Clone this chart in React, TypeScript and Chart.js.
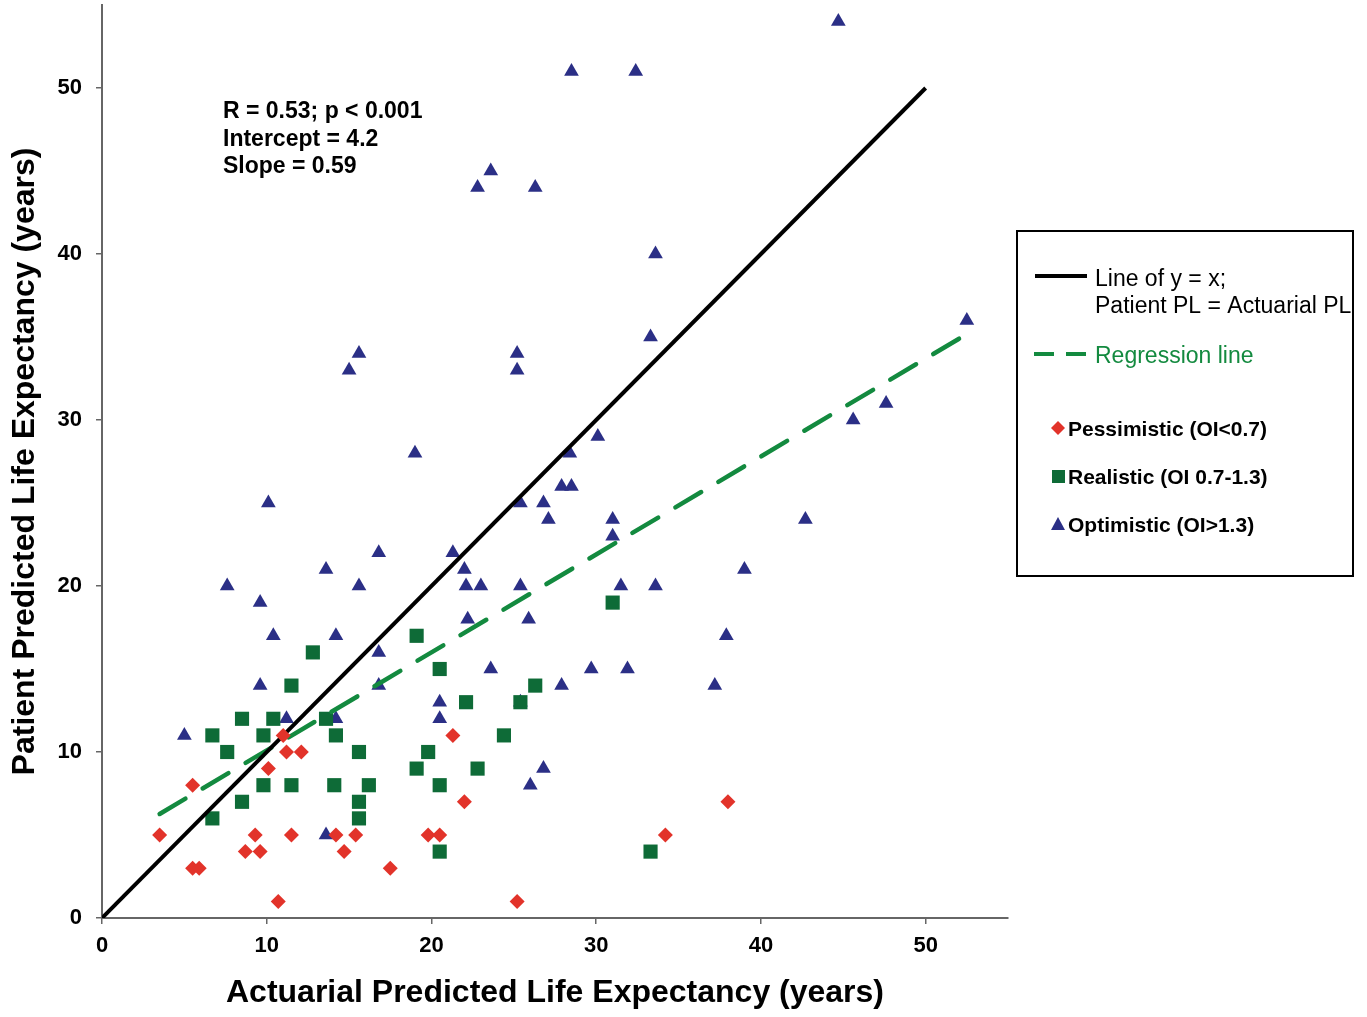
import React, { useEffect, useRef } from "react";
import { Chart, registerables } from "chart.js";

Chart.register(...registerables);

// ---- Data ----
const pessimisticX = [3.5, 5.5, 5.5, 5.9, 8.7, 9.3, 9.6, 10.1, 10.7, 11.0, 11.2, 11.5, 12.1, 14.2, 14.7, 15.4, 17.5, 19.8, 20.5, 21.3, 22.0, 25.2, 34.2, 38.0];
const pessimisticY = [5, 8, 3, 3, 4, 5, 4, 9, 1, 11, 10, 5, 10, 5, 4, 5, 3, 5, 5, 11, 7, 1, 5, 7];

const realisticX = [6.7, 6.7, 7.6, 8.5, 8.5, 9.8, 9.8, 10.4, 11.5, 11.5, 12.8, 13.6, 14.2, 14.1, 15.6, 15.6, 15.6, 16.2, 19.1, 19.1, 19.8, 20.5, 20.5, 20.5, 22.1, 22.8, 24.4, 25.4, 26.3, 31.0, 33.3];
const realisticY = [11, 6, 10, 12, 7, 11, 8, 12, 14, 8, 16, 12, 11, 8, 10, 7, 6, 8, 17, 9, 10, 15, 8, 4, 13, 9, 11, 13, 14, 19, 4];

const optimisticX = [44.7, 28.5, 32.4, 23.6, 22.8, 26.3, 33.6, 33.3, 52.5, 15.6, 15.0, 25.2, 25.2, 30.1, 28.4, 19.0, 45.6, 47.6, 10.1, 25.4, 26.8, 27.9, 28.5, 27.1, 31.0, 31.0, 42.7, 16.8, 21.3, 13.6, 22.0, 39.0, 7.6, 15.6, 22.1, 23.0, 25.4, 31.5, 33.6, 9.6, 10.4, 14.2, 22.2, 25.9, 37.9, 16.8, 23.6, 29.7, 31.9, 9.6, 16.8, 27.9, 37.2, 20.5, 25.4, 11.2, 14.2, 20.5, 5.0, 26.8, 26.0, 13.6];
const optimisticY = [54, 51, 51, 45, 44, 44, 40, 35, 36, 34, 33, 34, 33, 29, 28, 28, 30, 31, 25, 25, 25, 26, 26, 24, 24, 23, 24, 22, 22, 21, 21, 21, 20, 20, 20, 20, 20, 20, 20, 19, 17, 17, 18, 18, 17, 16, 15, 15, 15, 14, 14, 14, 14, 13, 13, 12, 12, 12, 11, 9, 8, 5];

const identityX = [0, 50];
const regressionIntercept = 4.2;
const regressionSlope = 0.59;
const regressionRangeX = [3.5, 52.5];

const xTickValues = [0, 10, 20, 30, 40, 50];
const yTickValues = [0, 10, 20, 30, 40, 50];

const statsLines = ["R = 0.53; p < 0.001", "Intercept = 4.2", "Slope = 0.59"];

const xTitle = "Actuarial Predicted Life Expectancy (years)";
const yTitle = "Patient Predicted Life Expectancy (years)";

const legendLine1 = ["Line of y = x;", "Patient PL = Actuarial PL"];
const legendRegression = "Regression line";
const legendPess = "Pessimistic (OI<0.7)";
const legendReal = "Realistic (OI 0.7-1.3)";
const legendOpt = "Optimistic (OI>1.3)";

// ---- Styles ----
const FONT = "'Liberation Sans', Arial, Helvetica, sans-serif";
const RED = "#e2332a";
const GREEN_SQ = "#0e6b37";
const GREEN_LINE = "#138a3f";
const NAVY = "#2b2f86";
const AXIS = "#666666";

const zip = (xs: number[], ys: number[]) => xs.map((x, i) => ({ x, y: ys[i] }));

const overlayPlugin = {
  id: "overlay",
  afterDraw(chart: any) {
    const ctx = chart.ctx as CanvasRenderingContext2D;
    ctx.save();
    // stats text
    ctx.fillStyle = "#000";
    ctx.font = `bold 23px ${FONT}`;
    ctx.textBaseline = "middle";
    ctx.textAlign = "left";
    const sy = [112, 140, 167];
    statsLines.forEach((t, i) => ctx.fillText(t, 223, sy[i]));

    // legend box
    ctx.strokeStyle = "#000";
    ctx.lineWidth = 2;
    ctx.strokeRect(1017, 231, 336, 345);

    // black line sample
    ctx.beginPath();
    ctx.lineWidth = 4;
    ctx.moveTo(1035, 276);
    ctx.lineTo(1087, 276);
    ctx.stroke();
    ctx.font = `23px ${FONT}`;
    ctx.fillStyle = "#000";
    ctx.fillText(legendLine1[0], 1095, 280);
    ctx.fillText(legendLine1[1], 1095, 307);

    // green dashed sample
    ctx.strokeStyle = GREEN_LINE;
    ctx.beginPath();
    ctx.setLineDash([20, 12]);
    ctx.moveTo(1034, 354);
    ctx.lineTo(1087, 354);
    ctx.stroke();
    ctx.setLineDash([]);
    ctx.fillStyle = GREEN_LINE;
    ctx.fillText(legendRegression, 1095, 357);

    // marker samples
    ctx.font = `bold 21px ${FONT}`;
    ctx.fillStyle = RED;
    ctx.beginPath();
    ctx.moveTo(1058, 421);
    ctx.lineTo(1065, 428);
    ctx.lineTo(1058, 435);
    ctx.lineTo(1051, 428);
    ctx.closePath();
    ctx.fill();
    ctx.fillStyle = "#000";
    ctx.fillText(legendPess, 1068, 430);

    ctx.fillStyle = GREEN_SQ;
    ctx.fillRect(1052, 470, 13, 13);
    ctx.fillStyle = "#000";
    ctx.fillText(legendReal, 1068, 478);

    ctx.fillStyle = NAVY;
    ctx.beginPath();
    ctx.moveTo(1058, 517);
    ctx.lineTo(1065, 530);
    ctx.lineTo(1051, 530);
    ctx.closePath();
    ctx.fill();
    ctx.fillStyle = "#000";
    ctx.fillText(legendOpt, 1068, 526);

    ctx.restore();
  },
};

export default function App() {
  const ref = useRef<HTMLCanvasElement | null>(null);

  useEffect(() => {
    if (!ref.current) return;
    const regression = regressionRangeX.map((x) => ({ x, y: regressionIntercept + regressionSlope * x }));
    const identity = identityX.map((x) => ({ x, y: x }));

    const chart = new Chart(ref.current, {
      type: "scatter",
      data: {
        datasets: [
          {
            label: legendPess,
            data: zip(pessimisticX, pessimisticY),
            pointStyle: "rectRot",
            pointRadius: 7.5,
            backgroundColor: RED,
            borderColor: RED,
            borderWidth: 0,
            order: 0,
          },
          {
            label: "Line of y = x",
            data: identity,
            showLine: true,
            borderColor: "#000",
            borderWidth: 4,
            pointRadius: 0,
            order: 1,
          },
          {
            label: legendRegression,
            data: regression,
            showLine: true,
            borderColor: GREEN_LINE,
            borderWidth: 4.5,
            borderDash: [30, 20],
            borderCapStyle: "round",
            pointRadius: 0,
            order: 2,
          },
          {
            label: legendReal,
            data: zip(realisticX, realisticY),
            pointStyle: "rect",
            pointRadius: 10,
            backgroundColor: GREEN_SQ,
            borderColor: GREEN_SQ,
            borderWidth: 0,
            order: 3,
          },
          {
            label: legendOpt,
            data: zip(optimisticX, optimisticY),
            pointStyle: "triangle",
            pointRadius: 8.5,
            backgroundColor: NAVY,
            borderColor: NAVY,
            borderWidth: 0,
            order: 4,
          },
        ],
      } as any,
      options: {
        responsive: false,
        maintainAspectRatio: false,
        animation: false,
        layout: { autoPadding: false, padding: { left: 0, top: 5, right: 359, bottom: 0 } },
        plugins: {
          legend: { display: false },
          tooltip: { enabled: false },
        },
        scales: {
          x: {
            type: "linear",
            min: 0,
            max: 55,
            afterBuildTicks: (s: any) => {
              s.ticks = xTickValues.map((v) => ({ value: v }));
            },
            afterFit: (s: any) => {
              s.height = 99;
              s.paddingLeft = 0;
              s.paddingRight = 0;
            },
            border: { display: true, color: AXIS, width: 2 },
            grid: { display: true, drawOnChartArea: false, drawTicks: true, tickLength: 6, color: AXIS, lineWidth: 1.5 },
            ticks: { font: { family: FONT, size: 22, weight: "bold" }, color: "#000", padding: 9, maxRotation: 0, autoSkip: false },
            title: { display: true, text: xTitle, color: "#000", font: { family: FONT, size: 32, weight: "bold" }, padding: { top: 0, bottom: 5 } },
          },
          y: {
            type: "linear",
            min: 0,
            max: 55,
            afterBuildTicks: (s: any) => {
              s.ticks = yTickValues.map((v) => ({ value: v }));
            },
            afterFit: (s: any) => {
              s.width = 102;
              s.paddingTop = 0;
              s.paddingBottom = 0;
            },
            border: { display: true, color: AXIS, width: 2 },
            grid: { display: true, drawOnChartArea: false, drawTicks: true, tickLength: 6, color: AXIS, lineWidth: 1.5 },
            ticks: { font: { family: FONT, size: 22, weight: "bold" }, color: "#000", padding: 14, autoSkip: false },
            title: { display: true, text: yTitle, color: "#000", font: { family: FONT, size: 32, weight: "bold" }, padding: { top: 6, bottom: 0 } },
          },
        },
      } as any,
      plugins: [overlayPlugin],
    });
    return () => chart.destroy();
  }, []);

  return (
    <div style={{ position: "fixed", left: 0, top: 0, width: 1367, height: 1017, background: "#fff" }}>
      <canvas ref={ref} width={1367} height={1017} style={{ display: "block" }} />
    </div>
  );
}
